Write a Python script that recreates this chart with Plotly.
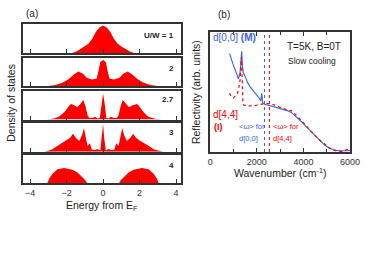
import plotly.graph_objects as go

# ---------------- data: panel (a) density of states ----------------
uw_labels = ["U/W = 1", "2", "2.7", "3", "4"]

e1 = [-1.75, -1.5, -1.3, -1.0, -0.8, -0.6, -0.4, -0.2, 0.0, 0.2, 0.4, 0.6, 0.8, 1.0, 1.3, 1.5, 1.75]
d1 = [0.0, 0.05, 0.12, 0.24, 0.33, 0.5, 0.74, 0.9, 0.97, 0.9, 0.74, 0.5, 0.33, 0.24, 0.12, 0.05, 0.0]

e2 = [-3.0, -2.6, -2.2, -1.9, -1.6, -1.35, -1.1, -0.9, -0.6, -0.35, -0.25, -0.15, 0.0,
      0.15, 0.25, 0.35, 0.6, 0.9, 1.1, 1.35, 1.6, 1.9, 2.2, 2.6, 3.0]
d2 = [0.0, 0.04, 0.13, 0.25, 0.42, 0.53, 0.45, 0.3, 0.24, 0.27, 0.55, 0.88, 0.95,
      0.88, 0.55, 0.27, 0.24, 0.3, 0.45, 0.53, 0.42, 0.25, 0.13, 0.04, 0.0]

e3 = [-3.1, -2.7, -2.4, -2.1, -1.85, -1.75, -1.55, -1.42, -1.25, -1.08, -0.95, -0.85, -0.75, -0.55, -0.44, -0.3, -0.18, -0.08, 0.0,
      0.08, 0.18, 0.3, 0.44, 0.55, 0.75, 0.85, 0.95, 1.08, 1.25, 1.42, 1.6, 1.85, 1.95, 2.2, 2.45, 2.8, 3.2]
d3 = [0.0, 0.04, 0.11, 0.28, 0.5, 0.56, 0.5, 0.44, 0.55, 0.7, 0.45, 0.15, 0.05, 0.06, 0.1, 0.04, 0.05, 0.6, 0.93,
      0.6, 0.05, 0.04, 0.1, 0.06, 0.05, 0.15, 0.45, 0.7, 0.55, 0.44, 0.5, 0.56, 0.5, 0.28, 0.11, 0.04, 0.0]

e4 = [-3.2, -2.8, -2.4, -2.0, -1.8, -1.65, -1.5, -1.3, -1.15, -1.05, -0.95, -0.85, -0.72, -0.62, -0.45, -0.3, -0.15, -0.06, 0.0,
      0.06, 0.15, 0.3, 0.45, 0.62, 0.72, 0.85, 0.95, 1.05, 1.15, 1.3, 1.5, 1.65, 1.8, 2.0, 2.4, 2.8, 3.3]
d4 = [0.0, 0.08, 0.25, 0.4, 0.5, 0.64, 0.5, 0.38, 0.6, 0.85, 0.55, 0.2, 0.3, 0.08, 0.06, 0.1, 0.04, 0.5, 1.0,
      0.5, 0.04, 0.1, 0.06, 0.08, 0.3, 0.2, 0.55, 0.85, 0.6, 0.38, 0.5, 0.64, 0.5, 0.4, 0.25, 0.08, 0.0]

e5 = [-3.05, -2.95, -2.77, -2.5, -2.13, -1.68, -1.4, -1.24, -0.97, -0.88,
      0.88, 0.97, 1.24, 1.4, 1.68, 2.13, 2.5, 2.77, 2.95, 3.05]
d5 = [0.0, 0.16, 0.34, 0.5, 0.55, 0.48, 0.38, 0.28, 0.1, 0.0,
      0.0, 0.1, 0.28, 0.38, 0.48, 0.55, 0.5, 0.34, 0.16, 0.0]

dos_energy = [e1, e2, e3, e4, e5]
dos_values = [d1, d2, d3, d4, d5]
energy_ticks = [-4, -2, 0, 2, 4]

# ---------------- data: panel (b) reflectivity ----------------
wn_00 = [830, 900, 1000, 1100, 1210, 1280, 1320, 1350, 1380, 1420, 1500, 1600, 1720, 1850, 2000, 2100, 2170,
         2210, 2250, 2350, 2500, 2700, 2900, 3100, 3300, 3480, 3600, 3750, 3930, 4100, 4300, 4480, 4700,
         4900, 5100, 5300, 5500, 5700, 5900, 6000]
r_00 = [0.82, 0.77, 0.72, 0.67, 0.61, 0.66, 0.8, 0.84, 0.72, 0.66, 0.63, 0.58, 0.54, 0.51, 0.475, 0.45, 0.425,
        0.49, 0.41, 0.395, 0.39, 0.38, 0.37, 0.36, 0.345, 0.33, 0.31, 0.28, 0.25, 0.215, 0.175, 0.14, 0.095,
        0.06, 0.033, 0.018, 0.01, 0.008, 0.01, 0.012]

wn_44 = [830, 880, 1000, 1100, 1170, 1230, 1280, 1320, 1340, 1370, 1400, 1440, 1600, 1850, 2000, 2200, 2400,
         2550, 2700, 2900, 3100, 3300, 3480, 3600, 3750, 3930, 4100, 4300, 4480, 4700, 4900, 5100, 5300,
         5500, 5700, 5900, 6000]
r_44 = [0.49, 0.47, 0.45, 0.47, 0.49, 0.54, 0.6, 0.72, 0.79, 0.62, 0.42, 0.39, 0.385, 0.385, 0.39, 0.40, 0.405,
        0.40, 0.395, 0.38, 0.365, 0.35, 0.345, 0.325, 0.295, 0.26, 0.22, 0.18, 0.14, 0.1, 0.065, 0.035, 0.015,
        0.005, 0.006, 0.018, 0.03]

omega_00 = 2330
omega_44 = 2540
wn_ticks = [0, 2000, 4000, 6000]

# ---------------- figure ----------------
W, H = 374, 280
def px(x):
    return x / W
def py(y):
    return 1 - y / H

FONT = "Liberation Sans, Arial, sans-serif"
RED = "#ff0000"
BLUE = "#3a5cf0"
FRAME = "#333333"

rows = [(23.5, 53.3), (57.5, 86.0), (90.5, 119.5), (122.7, 151.7), (154.5, 183.0)]
xa_dom = [px(20.5), px(184)]

fig = go.Figure()
layout = dict(
    width=W, height=H, margin=dict(l=0, r=0, t=0, b=0),
    paper_bgcolor="white", plot_bgcolor="white", showlegend=False,
    font=dict(family=FONT, color="#222222", size=9),
)

for i in range(5):
    n = i + 1
    xn = "x" if n == 1 else f"x{n}"
    yn = "y" if n == 1 else f"y{n}"
    fig.add_trace(go.Scatter(
        x=dos_energy[i], y=dos_values[i], xaxis=xn, yaxis=yn,
        mode="lines", line=dict(width=0, color=RED), fill="tozeroy",
        fillcolor=RED, hoverinfo="skip"))
    top, bot = rows[i]
    layout[f"xaxis{'' if n == 1 else n}"] = dict(
        domain=xa_dom, anchor=yn, range=[-4.4, 4.25],
        tickvals=energy_ticks,
        showticklabels=(n == 5), ticks="inside", ticklen=4, tickwidth=1.3, tickcolor=FRAME,
        showline=True, linewidth=2, linecolor=FRAME, mirror=True,
        showgrid=False, zeroline=False,
        tickfont=dict(size=9, family=FONT, color="#333333"),
    )
    layout[f"yaxis{'' if n == 1 else n}"] = dict(
        domain=[py(bot), py(top)], anchor=xn, range=[0, 1.04],
        showticklabels=False, ticks="", showline=True, linewidth=2, linecolor=FRAME,
        mirror=True, showgrid=False, zeroline=False,
    )

# panel b
fig.add_trace(go.Scatter(x=wn_00, y=r_00, xaxis="x6", yaxis="y6", mode="lines",
                         line=dict(color=BLUE, width=1.1), hoverinfo="skip"))
fig.add_trace(go.Scatter(x=wn_44, y=r_44, xaxis="x6", yaxis="y6", mode="lines",
                         line=dict(color=RED, width=1.2, dash="dot"), hoverinfo="skip"))

layout["xaxis6"] = dict(
    domain=[px(214.7), px(359.5)], anchor="y6", range=[0, 6000],
    tickvals=wn_ticks, ticks="inside", ticklen=4, tickwidth=1, tickcolor=FRAME,
    minor=dict(dtick=1000, ticks="inside", ticklen=3, tickcolor=FRAME),
    showline=True, linewidth=1.5, linecolor=FRAME, mirror="ticks",
    showgrid=False, zeroline=False, tickfont=dict(size=9, family=FONT, color="#333333"),
)
layout["yaxis6"] = dict(
    domain=[py(152), py(32)], anchor="x6", range=[0, 1],
    showticklabels=False, ticks="", showline=True, linewidth=1.5, linecolor=FRAME,
    mirror=True, showgrid=False, zeroline=False,
)

layout["shapes"] = [
    dict(type="line", xref="x6", yref="y6 domain", x0=omega_00, x1=omega_00, y0=0, y1=1,
         line=dict(color=BLUE, width=1, dash="dot")),
    dict(type="line", xref="x6", yref="y6 domain", x0=omega_44, x1=omega_44, y0=0, y1=1,
         line=dict(color=RED, width=1, dash="dot")),
]

ann = []
def A(text, x, y, size=9, color="#222222", xanchor="center", yanchor="middle", angle=0):
    ann.append(dict(text=text, x=px(x), y=py(y), xref="paper", yref="paper", showarrow=False,
                    xanchor=xanchor, yanchor=yanchor, textangle=angle,
                    font=dict(size=size, color=color, family=FONT)))

A("(a)", 22, 13, size=10, xanchor="left")
A("(b)", 221, 14, size=10, xanchor="left")
label_y = [35, 68, 99.5, 132.5, 165]
for lab, yy in zip(uw_labels, label_y):
    A(f"<b>{lab}</b>", 179, yy, size=8, xanchor="right")
A("Density of states", 8, 103, size=10.5, angle=-90)
A("Energy from E<sub>F</sub>", 103, 206, size=10.5)
A("Reflectivity (arb. units)", 200, 92, size=10.5, angle=-90)
A("Wavenumber (cm<sup>-1</sup>)", 287, 172, size=10.5)
A("d[0,0] <b>(M)</b>", 216, 38, size=10, color=BLUE, xanchor="left")
A("T=5K, B=0T", 322, 47, size=10)
A("Slow cooling", 320, 61, size=8.5)
A("d[4,4]", 216, 114, size=10, color=RED, xanchor="left")
A("<b>(I)</b>", 217, 127, size=9, color=RED, xanchor="left")
A("&lt;ω&gt; for", 242, 127, size=7.5, color=BLUE, xanchor="left")
A("d[0,0]", 242, 138, size=7.5, color=BLUE, xanchor="left")
A("&lt;ω&gt; for", 278, 127, size=7.5, color=RED, xanchor="left")
A("d[4,4]", 278, 138, size=7.5, color=RED, xanchor="left")
layout["annotations"] = ann

fig.update_layout(**layout)
fig.write_html(
    "out.html",
    config={"displayModeBar": False},
    post_script="document.body.style.margin='0';document.body.style.padding='0';"
                "document.documentElement.style.overflow='hidden';",
)
